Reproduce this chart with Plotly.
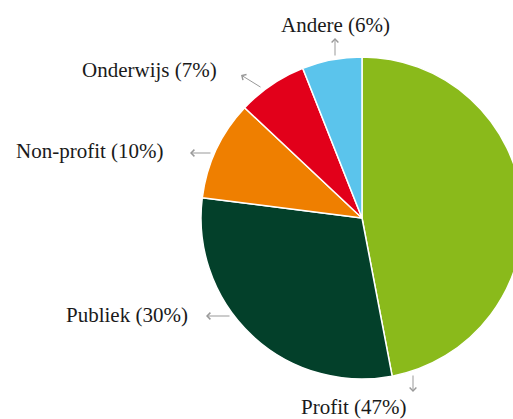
import plotly.graph_objects as go

labels = ["Profit", "Publiek", "Non-profit", "Onderwijs", "Andere"]
values = [47, 30, 10, 7, 6]
colors = ["#8aba1b", "#03402a", "#ef7f00", "#e2001a", "#5bc4ec"]
label_texts = ["Profit (47%)", "Publiek (30%)", "Non-profit (10%)", "Onderwijs (7%)", "Andere (6%)"]

W, H = 523, 419
CX, CY, R = 362, 218, 161


def px(x):
    return x / W


def py(y):
    return 1 - y / H


fig = go.Figure(go.Pie(
    labels=labels,
    values=values,
    sort=False,
    direction="clockwise",
    rotation=0,
    marker=dict(colors=colors, line=dict(color="white", width=1.5)),
    textinfo="none",
    hoverinfo="label+percent",
    domain=dict(x=[px(CX - R), px(CX + R)], y=[py(CY + R), py(CY - R)]),
    showlegend=False,
))

# label placement (pixel positions)
label_pos = {
    "Profit": (354, 407, "center"),
    "Publiek": (190, 315, "right"),
    "Non-profit": (166, 151, "right"),
    "Onderwijs": (219, 70, "right"),
    "Andere": (335, 25, "center"),
}
# arrows: tail (at pie edge) -> tip
arrow_pos = {
    "Profit": ((413, 374), (413, 392)),
    "Publiek": ((231, 316), (206, 316)),
    "Non-profit": ((212, 153), (190, 153)),
    "Onderwijs": ((262, 88), (241, 75)),
    "Andere": ((335, 57), (335, 38)),
}

font = dict(family="Liberation Serif, Times New Roman, serif", size=21, color="#1a1a1a")

for lab, txt in zip(labels, label_texts):
    x, y, anc = label_pos[lab]
    fig.add_annotation(x=px(x), y=py(y), xref="paper", yref="paper", text=txt,
                       showarrow=False, xanchor=anc, yanchor="middle", font=font)
    (tx, ty), (hx, hy) = arrow_pos[lab]
    fig.add_annotation(x=px(hx), y=py(hy), xref="paper", yref="paper", text="",
                       showarrow=True, ax=tx - hx, ay=ty - hy,
                       arrowhead=4, arrowsize=1.3, arrowwidth=1, arrowcolor="#999999")

fig.update_layout(
    width=W, height=H,
    margin=dict(l=0, r=0, t=0, b=0),
    paper_bgcolor="white",
    plot_bgcolor="white",
)

fig.write_html("out.html",
               config={"displayModeBar": False},
               post_script="document.body.style.margin='0';document.body.style.overflow='hidden';")
